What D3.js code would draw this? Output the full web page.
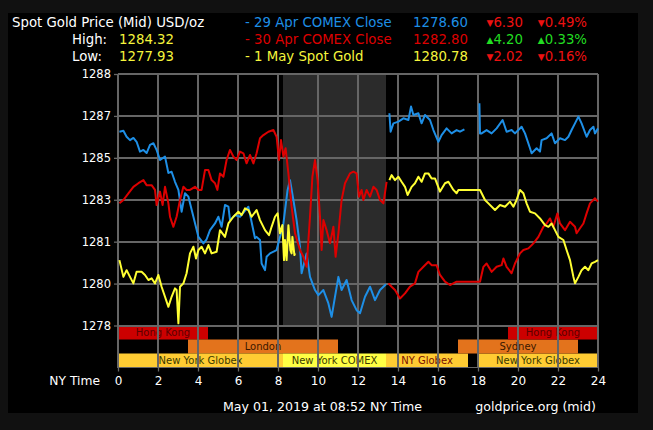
<!DOCTYPE html>
<html><head><meta charset="utf-8">
<script src="https://cdn.jsdelivr.net/npm/d3@7"></script>
<style>html,body{margin:0;padding:0;background:#111;} svg{display:block;font-family:"DejaVu Sans",sans-serif;}</style>
</head><body><svg id="c" width="653" height="430"></svg>
<script>
// ---------- data ----------
const hourTicks = [0,2,4,6,8,10,12,14,16,18,20,22,24];
const yTickValues = [1277.8,1279.55,1281.3,1283.05,1284.8,1286.55,1288.3];
const yTickLabels = ["1278","1280","1281","1283","1285","1287","1288"];
const comexShade = [8.25, 13.4];

// 29 Apr COMEX Close (blue) [hour, price]; null = gap
const blue = [[0.07,1285.89],[0.27,1285.93],[0.43,1285.68],[0.6,1285.54],[0.77,1285.63],[0.93,1285.47],[1.1,1285.06],[1.27,1285.13],[1.43,1285.0],[1.6,1285.34],[1.77,1285.41],[1.93,1285.13],[2.1,1284.71],[2.35,1284.85],[2.52,1284.17],[2.68,1284.22],[2.85,1283.8],[3.02,1283.46],[3.18,1282.55],[3.35,1283.32],[3.52,1283.18],[3.77,1282.34],[4.02,1281.5],[4.27,1281.23],[4.43,1281.4],[4.6,1281.78],[4.85,1282.06],[5.02,1282.34],[5.18,1281.92],[5.35,1282.83],[5.52,1282.76],[5.6,1282.2],[5.85,1282.41],[6.1,1282.34],[6.52,1282.76],[6.85,1281.44],[6.93,1281.5],[7.1,1281.37],[7.18,1280.39],[7.35,1280.11],[7.43,1280.67],[7.6,1280.81],[7.93,1280.95],[8.1,1281.5],[8.27,1282.06],[8.48,1283.46],[8.6,1283.87],[8.77,1283.04],[8.93,1282.2],[9.1,1281.09],[9.18,1279.98],[9.43,1280.81],[9.6,1279.83],[9.85,1279.28],[10.02,1279.07],[10.27,1279.28],[10.52,1278.72],[10.68,1278.16],[10.85,1279.0],[11.02,1279.83],[11.18,1279.28],[11.43,1279.7],[11.68,1278.86],[11.93,1278.44],[12.1,1278.31],[12.35,1279.0],[12.6,1279.42],[12.85,1278.86],[13.1,1279.28],[13.27,1279.42],[13.4,1279.52],
 null,[13.57,1286.66],[13.63,1285.89],[13.77,1286.24],[14.02,1286.31],[14.27,1286.45],[14.52,1286.38],[14.65,1286.94],[14.77,1286.59],[15.02,1286.66],[15.18,1286.24],[15.35,1286.59],[15.6,1286.38],[15.77,1285.96],[16.02,1285.47],[16.18,1285.75],[16.43,1286.03],[16.68,1285.82],[16.93,1285.96],[17.1,1285.89],[17.32,1285.99],
 null,[18.07,1287.08],[18.1,1285.82],[18.18,1285.82],[18.43,1285.96],[18.68,1285.82],[18.93,1286.03],[19.23,1286.38],[19.43,1285.89],[19.68,1285.96],[19.85,1285.82],[20.18,1286.1],[20.35,1285.82],[20.6,1285.2],[20.68,1284.99],[20.93,1285.2],[21.1,1285.06],[21.18,1285.54],[21.43,1285.62],[21.68,1285.82],[21.85,1285.41],[22.1,1285.62],[22.35,1285.54],[22.52,1285.68],[22.68,1285.96],[22.85,1286.24],[23.02,1286.52],[23.18,1286.24],[23.43,1285.68],[23.6,1285.96],[23.77,1286.1],[23.85,1285.82],[24.0,1286.03]];

// 30 Apr COMEX Close (red)
const red = [[0.07,1282.9],[0.27,1283.04],[0.52,1283.32],[0.77,1283.59],[1.02,1283.74],[1.27,1283.87],[1.43,1283.66],[1.68,1283.66],[1.85,1283.46],[1.93,1282.83],[2.1,1283.39],[2.23,1282.83],[2.35,1283.59],[2.52,1282.9],[2.6,1282.34],[2.77,1281.92],[2.93,1282.34],[3.1,1283.04],[3.27,1283.59],[3.43,1283.46],[3.6,1283.46],[3.85,1283.59],[4.02,1283.46],[4.18,1283.46],[4.35,1284.29],[4.52,1284.29],[4.68,1283.87],[4.85,1283.74],[4.97,1283.46],[5.1,1284.15],[5.27,1284.01],[5.43,1284.71],[5.6,1285.13],[5.77,1284.85],[5.93,1284.71],[6.1,1285.06],[6.27,1284.99],[6.43,1284.57],[6.6,1284.92],[6.77,1284.57],[6.93,1284.99],[7.1,1285.62],[7.27,1285.75],[7.52,1285.89],[7.77,1285.96],[7.93,1285.68],[8.05,1284.71],[8.15,1285.54],[8.27,1284.85],[8.38,1285.2],[8.52,1284.15],[8.68,1282.76],[8.85,1281.65],[9.1,1280.95],[9.27,1280.67],[9.43,1280.25],[9.6,1282.34],[9.72,1284.01],[9.85,1284.71],[9.98,1283.87],[10.1,1282.34],[10.18,1280.95],[10.27,1282.2],[10.43,1281.78],[10.6,1281.23],[10.77,1281.92],[10.88,1280.67],[11.02,1281.65],[11.18,1283.04],[11.35,1283.74],[11.6,1284.15],[11.77,1284.22],[11.93,1284.15],[12.05,1283.18],[12.18,1283.46],[12.27,1283.04],[12.43,1283.46],[12.6,1283.18],[12.77,1283.59],[12.93,1283.46],[13.1,1283.04],[13.27,1282.9],[13.43,1283.8],
 null,[13.52,1279.56],[13.68,1279.42],[13.85,1279.28],[14.1,1278.93],[14.35,1279.14],[14.6,1279.42],[14.85,1279.56],[15.02,1280.04],[15.27,1280.25],[15.52,1280.46],[15.68,1280.32],[15.93,1280.32],[16.1,1279.91],[16.35,1279.63],[16.6,1279.49],[16.93,1279.63],[18.1,1279.63],[18.27,1280.25],[18.43,1280.39],[18.68,1280.04],[18.93,1280.25],[19.18,1280.32],[19.27,1280.6],[19.43,1280.25],[19.68,1279.98],[19.85,1280.39],[20.1,1280.81],[20.27,1280.95],[20.52,1281.02],[20.77,1281.23],[21.02,1281.5],[21.27,1281.92],[21.43,1282.06],[21.6,1282.27],[21.77,1281.92],[21.97,1282.48],[22.1,1282.06],[22.35,1281.78],[22.6,1282.13],[22.85,1281.92],[22.93,1281.65],[23.1,1281.86],[23.27,1282.06],[23.43,1282.48],[23.6,1282.9],[23.85,1283.11],[24.0,1282.97]];

// 1 May Spot Gold (yellow)
const yellow = [[0.07,1280.53],[0.27,1279.83],[0.43,1280.11],[0.6,1279.83],[0.77,1279.56],[0.93,1280.04],[1.18,1280.04],[1.35,1279.91],[1.52,1279.7],[1.68,1279.77],[1.85,1279.56],[2.02,1279.91],[2.18,1279.42],[2.35,1279.0],[2.52,1278.58],[2.68,1279.0],[2.85,1279.35],[2.93,1279.28],[3.02,1277.89],[3.1,1279.42],[3.27,1279.56],[3.43,1279.98],[3.6,1280.81],[3.77,1281.09],[3.9,1280.6],[4.02,1280.95],[4.18,1281.09],[4.35,1280.81],[4.52,1281.16],[4.68,1280.81],[4.93,1280.88],[5.1,1281.78],[5.35,1281.5],[5.52,1282.06],[5.77,1282.34],[6.02,1282.55],[6.18,1282.41],[6.35,1282.69],[6.52,1282.62],[6.68,1282.34],[6.93,1282.62],[7.1,1282.2],[7.35,1281.78],[7.55,1281.57],[7.68,1281.92],[7.85,1282.34],[7.98,1282.48],[8.1,1281.65],[8.22,1281.99],[8.3,1280.53],[8.35,1281.37],[8.43,1280.53],[8.52,1281.99],[8.62,1280.95],[8.68,1280.81],[8.72,1281.5],[8.82,1280.74],[8.85,1280.81],
 null,[13.57,1283.87],[13.68,1284.08],[13.85,1283.87],[14.02,1284.01],[14.18,1283.8],[14.35,1283.59],[14.48,1283.25],[14.68,1283.59],[14.85,1283.74],[15.02,1284.01],[15.18,1283.8],[15.35,1284.15],[15.52,1284.15],[15.68,1283.94],[15.85,1283.94],[16.1,1283.39],[16.35,1283.74],[16.52,1283.8],[16.77,1283.46],[16.93,1283.32],[17.02,1283.46],[18.1,1283.46],[18.35,1283.04],[18.52,1282.9],[18.85,1282.62],[19.1,1282.83],[19.35,1282.76],[19.6,1282.97],[19.77,1282.76],[19.93,1283.04],[20.1,1283.46],[20.27,1283.32],[20.43,1282.9],[20.6,1282.55],[20.85,1282.48],[21.1,1282.27],[21.35,1281.99],[21.52,1281.92],[21.68,1282.06],[21.85,1281.78],[22.02,1281.5],[22.27,1281.37],[22.43,1280.95],[22.6,1280.53],[22.77,1279.83],[22.85,1279.56],[23.02,1279.83],[23.18,1280.11],[23.35,1280.25],[23.52,1280.11],[23.68,1280.39],[23.85,1280.46],[24.0,1280.53]];

// market sessions: row 0 = Asia, row 1 = Europe/Sydney, row 2 = New York
const sessionNames = ["Hong Kong","London","New York Globex","New York COMEX","NY Globex","New York Globex","Sydney","Hong Kong"];
const sessionRows  = [0,1,2,2,2,2,1,0];
const sessionStart = [0,3.5,0,8.25,13.4,18,17,19.5];
const sessionEnd   = [4.5,11,8.25,13.4,17.5,24,23,24];
const sessionFill  = ["#cc0000","#e3731c","#ffcc33","#ffff44","#ffcc33","#ffcc33","#e3731c","#cc0000"];
const sessionInk   = ["#5a0000","#3a1800","#3a3a00","#3a3a00","#7a1000","#3a3a00","#3a1800","#5a0000"];

// legend table
const legendNames  = ["- 29 Apr COMEX Close","- 30 Apr COMEX Close","- 1 May Spot Gold"];
const legendColors = ["#1e8fe6","#dd0000","#f5f53c"];
const legendPrices = ["1278.60","1282.80","1280.78"];
const legendChg    = ["6.30","4.20","2.02"];
const legendPct    = ["0.49%","0.33%","0.16%"];
const legendUp     = [false,true,false];
const statLabels = ["High:","Low:"];
const statValues = ["1284.32","1277.93"];

// ---------- drawing ----------
const svg = d3.select("#c");
const x = d3.scaleLinear().domain([0,24]).range([118,598]);
const y = d3.scaleLinear().domain([1277.8,1288.3]).range([325.5,74]);
const rowTop = 325.5, rowH = 14;
const gridCol = "#666";

svg.append("rect").attr("x",8).attr("y",13).attr("width",630).attr("height",400).attr("fill","#000");

// shaded COMEX session
svg.append("rect").attr("x",x(comexShade[0])).attr("y",y.range()[1])
  .attr("width",x(comexShade[1])-x(comexShade[0])).attr("height",y.range()[0]-y.range()[1])
  .attr("fill","#2b2b2b");

// sessions bars
const sess = svg.append("g");
sessionNames.forEach((n,i)=>{
  const x0 = x(sessionStart[i]), x1 = x(sessionEnd[i]);
  const top = rowTop + sessionRows[i]*rowH;
  sess.append("rect").attr("x",x0).attr("y",top).attr("width",x1-x0).attr("height",rowH).attr("fill",sessionFill[i]);
  sess.append("text").attr("x",(x0+x1)/2).attr("y",top+rowH/2+3.6).attr("text-anchor","middle")
    .attr("font-size","10px").attr("fill",sessionInk[i]).text(n);
});

// grid
const grid = svg.append("g").attr("stroke",gridCol).attr("stroke-width",1.3).attr("shape-rendering","crispEdges");
yTickValues.forEach(v=>grid.append("line").attr("x1",x(0)).attr("x2",x(24)).attr("y1",Math.round(y(v))).attr("y2",Math.round(y(v))));
hourTicks.forEach(h=>grid.append("line").attr("x1",x(h)).attr("x2",x(h)).attr("y1",y.range()[1]).attr("y2",rowTop+3*rowH));
grid.append("line").attr("x1",x(0)).attr("x2",x(24)).attr("y1",rowTop+3*rowH).attr("y2",rowTop+3*rowH);

// axes
const yAxis = d3.axisLeft(y).tickValues(yTickValues).tickFormat((d,i)=>yTickLabels[i]).tickSize(4).tickPadding(3);
const gy = svg.append("g").attr("transform",`translate(${x(0)},0)`).call(yAxis);
gy.select(".domain").remove();
gy.selectAll("line").attr("stroke",gridCol).attr("stroke-width",1.3);
gy.selectAll("text").attr("fill","#fff").attr("font-size","11.5px").attr("font-family","DejaVu Sans");

const xAxis = d3.axisBottom(x).tickValues(hourTicks).tickFormat(d3.format("d")).tickSize(4).tickPadding(5);
const gx = svg.append("g").attr("transform",`translate(0,${rowTop+3*rowH})`).call(xAxis);
gx.select(".domain").remove();
gx.selectAll("line").attr("stroke",gridCol).attr("stroke-width",1.3);
gx.selectAll("text").attr("fill","#fff").attr("font-size","12px").attr("font-family","DejaVu Sans");
svg.append("text").attr("x",100).attr("y",385).attr("text-anchor","end").attr("fill","#fff").attr("font-size","12.3px").text("NY Time");

// lines
const line = d3.line().defined(d=>d!==null).x(d=>x(d[0])).y(d=>y(d[1]));
[[blue,legendColors[0]],[red,legendColors[1]],[yellow,"#ffff33"]].forEach(([data,c])=>{
  svg.append("path").datum(data).attr("d",line).attr("fill","none").attr("stroke",c).attr("stroke-width",2).attr("stroke-linejoin","round");
});

// header
const hdr = svg.append("g").attr("font-size","13.3px");
hdr.append("text").attr("x",12).attr("y",27).attr("fill","#fff").text("Spot Gold Price (Mid) USD/oz");
statLabels.forEach((s,i)=>{
  hdr.append("text").attr("x",72).attr("y",44+i*17).attr("fill","#fff").text(s);
  hdr.append("text").attr("x",119).attr("y",44+i*17).attr("fill","#f5f53c").text(statValues[i]);
});
legendNames.forEach((n,i)=>{
  const by = 27+i*17;
  hdr.append("text").attr("x",245).attr("y",by).attr("fill",legendColors[i]).text(n);
  hdr.append("text").attr("x",468).attr("y",by).attr("text-anchor","end").attr("fill",legendColors[i]).text(legendPrices[i]);
  const col = legendUp[i] ? "#22dd22" : "#ee1111";
  const tri = legendUp[i] ? "\u25B2" : "\u25BC";
  [[523,legendChg[i]],[587,legendPct[i]]].forEach(([ex,val])=>{
    const t = hdr.append("text").attr("x",ex).attr("y",by).attr("text-anchor","end").attr("fill",col);
    t.append("tspan").attr("font-size","9px").attr("dy","-1").text(tri);
    t.append("tspan").attr("dy","1").text(val);
  });
});

// footer
svg.append("text").attr("x",223).attr("y",411).attr("fill","#fff").attr("font-size","12.6px").text("May 01, 2019 at 08:52 NY Time");
svg.append("text").attr("x",596).attr("y",411).attr("text-anchor","end").attr("fill","#fff").attr("font-size","12.6px").text("goldprice.org (mid)");
</script></body></html>
